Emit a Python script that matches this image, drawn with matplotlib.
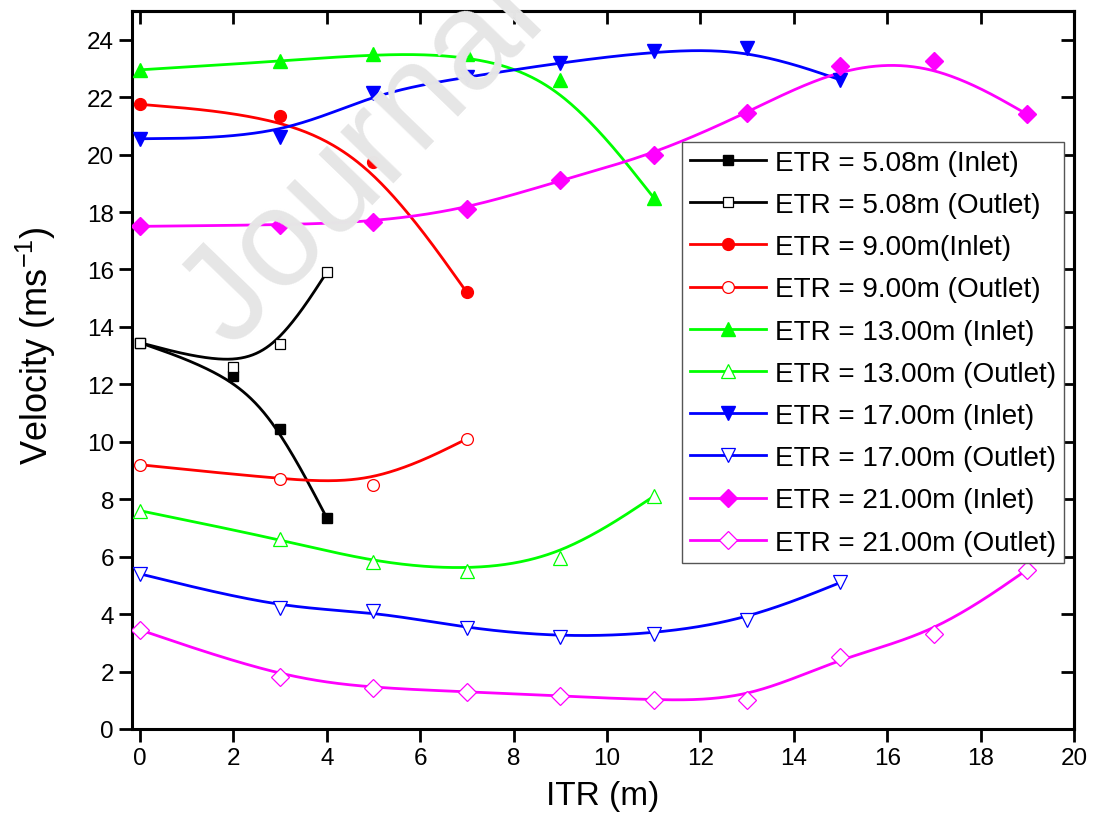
import numpy as np
import matplotlib
matplotlib.use('Agg')
from matplotlib import pyplot as plt

plt.rcParams['font.family'] = ['Liberation Sans', 'DejaVu Sans']
plt.rcParams['mathtext.fontset'] = 'custom'
plt.rcParams['mathtext.rm'] = 'Liberation Sans'
plt.rcParams['mathtext.it'] = 'Liberation Sans'

# ITR positions (m) and velocities (m/s) for each ETR case
x_508 = [0, 2, 3, 4]
v_508_in = [13.45, 12.3, 10.45, 7.35]
v_508_out = [13.45, 12.6, 13.4, 15.9]

x_900 = [0, 3, 5, 7]
v_900_in = [21.75, 21.35, 19.75, 15.2]
v_900_out = [9.2, 8.7, 8.5, 10.1]

x_1300 = [0, 3, 5, 7, 9, 11]
v_1300_in = [22.95, 23.25, 23.5, 23.5, 22.6, 18.5]
v_1300_out = [7.6, 6.6, 5.8, 5.5, 5.95, 8.1]

x_1700 = [0, 3, 5, 7, 9, 11, 13, 15]
v_1700_in = [20.55, 20.6, 22.15, 22.7, 23.2, 23.6, 23.7, 22.6]
v_1700_out = [5.4, 4.2, 4.1, 3.5, 3.2, 3.3, 3.8, 5.1]

x_2100 = [0, 3, 5, 7, 9, 11, 13, 15, 17, 19]
v_2100_in = [17.5, 17.55, 17.65, 18.1, 19.1, 20.0, 21.45, 23.1, 23.25, 21.4]
v_2100_out = [3.45, 1.8, 1.42, 1.3, 1.15, 1.0, 1.0, 2.5, 3.3, 5.55]

labels = ['ETR = 5.08m (Inlet)', 'ETR = 5.08m (Outlet)',
          'ETR = 9.00m(Inlet)', 'ETR = 9.00m (Outlet)',
          'ETR = 13.00m (Inlet)', 'ETR = 13.00m (Outlet)',
          'ETR = 17.00m (Inlet)', 'ETR = 17.00m (Outlet)',
          'ETR = 21.00m (Inlet)', 'ETR = 21.00m (Outlet)']


def bspline(X, Y, n=60):
    """ Uniform cubic B-spline using the points as control points,
        end points repeated so the curve starts and ends on them. """
    P = np.column_stack([X, Y]).astype(float)
    P = np.vstack([P[0], P[0], P, P[-1], P[-1]])
    t = np.linspace(0, 1, n)[:, None]
    b0 = (1 - t)**3 / 6
    b1 = (3*t**3 - 6*t**2 + 4) / 6
    b2 = (-3*t**3 + 3*t**2 + 3*t + 1) / 6
    b3 = t**3 / 6
    segs = [b0*P[i] + b1*P[i+1] + b2*P[i+2] + b3*P[i+3]
            for i in range(len(P) - 3)]
    curve = np.vstack(segs)
    return curve[:, 0], curve[:, 1]


series = [
    (x_508, v_508_in, 'black', 's', True),
    (x_508, v_508_out, 'black', 's', False),
    (x_900, v_900_in, '#ff0000', 'o', True),
    (x_900, v_900_out, '#ff0000', 'o', False),
    (x_1300, v_1300_in, '#00ff00', '^', True),
    (x_1300, v_1300_out, '#00ff00', '^', False),
    (x_1700, v_1700_in, '#0000ff', 'v', True),
    (x_1700, v_1700_out, '#0000ff', 'v', False),
    (x_2100, v_2100_in, '#ff00ff', 'D', True),
    (x_2100, v_2100_out, '#ff00ff', 'D', False),
]
msize = {'s': 7.5, 'o': 8.5, '^': 9.5, 'v': 9.5, 'D': 9}

fig = plt.figure(figsize=(10.93, 8.20), dpi=100)
ax = fig.add_axes([0.1208, 0.1098, 0.8618, 0.8756])
ax.set_facecolor('none')

# light watermark behind the data
fig.text(0.212, 0.572, 'Journal Pre-proof', rotation=46, rotation_mode='anchor',
         ha='left', va='baseline', fontsize=100, color='#e6e6e6', zorder=0)

for (X, Y, c, m, filled), lab in zip(series, labels):
    xs, ys = bspline(X, Y)
    ax.plot(xs, ys, color=c, lw=2.0, zorder=2)
    ms = msize[m]
    if filled:
        ax.plot(X, Y, ls='none', marker=m, ms=ms, color=c, mec=c, zorder=3)
    else:
        ax.plot(X, Y, ls='none', marker=m, ms=ms, mfc='white', mec=c,
                mew=0.9, zorder=3)
    # proxy artist for the legend entry
    ax.plot([], [], color=c, lw=2.0, marker=m, ms=ms,
            mfc=c if filled else 'white', mec=c, mew=0.9 if not filled else 1,
            label=lab)

ax.set_xlim(-0.17, 20)
ax.set_ylim(0, 25)
ax.set_xticks(np.arange(0, 21, 2))
ax.set_yticks(np.arange(0, 25, 2))

for s in ax.spines.values():
    s.set_linewidth(2.2)
ax.tick_params(axis='both', which='major', labelsize=17.5, width=2,
               length=9.5, direction='out')
ax2 = ax.secondary_xaxis('top')
ax2.set_xticks(np.arange(0, 21, 2))
ax2.tick_params(direction='in', length=9.5, width=2, labeltop=False)
ay2 = ax.secondary_yaxis('right')
ay2.set_yticks(np.arange(0, 25, 2))
ay2.tick_params(direction='in', length=9.5, width=2, labelright=False)
for a in (ax2, ay2):
    for s in a.spines.values():
        s.set_linewidth(2.2)

ax.set_xlabel('ITR (m)', fontsize=24, labelpad=8)
ax.set_ylabel('Velocity (ms$^{-1}$)', fontsize=26)
ax.yaxis.set_label_coords(-0.079, 0.536)

leg = ax.legend(loc='upper right', bbox_to_anchor=(0.9894, 0.8175),
                borderaxespad=0, fontsize=20.1, handlelength=2.72,
                handletextpad=0.32, labelspacing=0.58, borderpad=0.28,
                fancybox=False, framealpha=1, edgecolor='#555555')
leg.get_frame().set_linewidth(1.0)

plt.savefig('out.png', dpi=100)
